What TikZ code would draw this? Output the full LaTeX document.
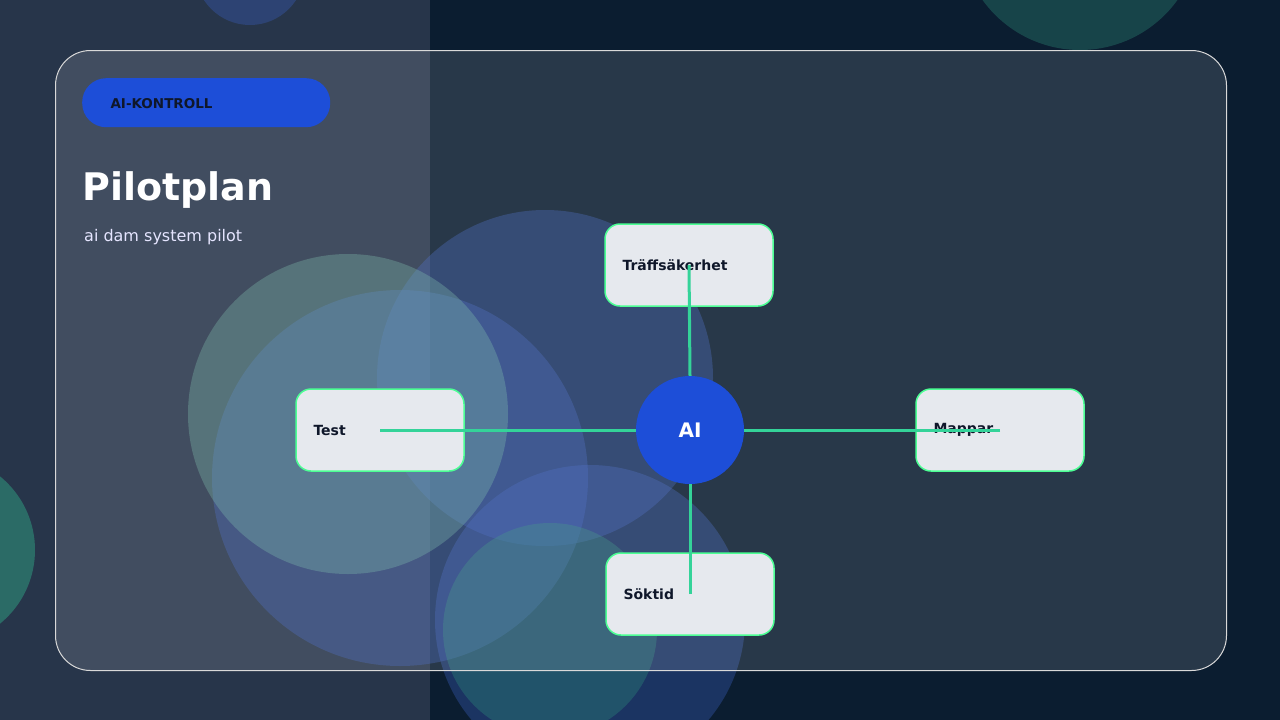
\documentclass[tikz,border=0pt]{standalone}
\usepackage{fontspec}
\setmainfont{DejaVu Sans}
\begin{document}
\begin{tikzpicture}[x=1pt,y=-1pt,
 box/.style={draw=green!60!cyan!70!white, line width=1.5pt, fill=boxc, rounded corners=15pt, minimum width=168pt, minimum height=82pt, inner sep=0pt},
 lbl/.style={font=\bfseries\fontsize{14}{16}\selectfont, text=dark, anchor=west},
 conn/.style={draw=lineg, line width=3pt},
 blob/.style={opacity=0.35}]
\definecolor{bgl}{HTML}{27354A}
\definecolor{bgr}{HTML}{0B1D30}
\definecolor{blu}{HTML}{1D4ED8}
\definecolor{boxc}{HTML}{E6E9EE}
\definecolor{dark}{HTML}{0F172A}
\definecolor{lineg}{HTML}{34D399}
\definecolor{tealc}{HTML}{2F8F7A}
\definecolor{bluec}{HTML}{3B5FC0}
\useasboundingbox (0,0) rectangle (1280,720);
\begin{scope}
\clip (0,0) rectangle (1280,720);
\fill[bgr] (0,0) rectangle (1280,720);
\fill[bgl] (0,0) rectangle (430,720);
\fill[bluec,blob] (250,-30) circle (55);
\fill[tealc,blob] (1080,-70) circle (120);
\fill[tealc,opacity=0.6] (-60,550) circle (95);
\fill[bluec,blob] (545,378) circle (168);
\fill[bluec,blob] (400,478) circle (188);
\fill[tealc!70!white,blob] (348,414) circle (160);
\fill[bluec,blob] (590,620) circle (155);
\fill[tealc,blob] (550,630) circle (107);
\end{scope}
\node[draw=white!70!gray, line width=1pt, fill=white, fill opacity=0.12, rounded corners=35pt, minimum width=1171pt, minimum height=620pt, anchor=north west] (panel) at (55,50) {};
\node[fill=blu, rounded corners=24pt, minimum width=248pt, minimum height=49pt, anchor=north west] (pill) at (82,78) {};
\node[anchor=west, font=\bfseries\fontsize{13.5}{15}\selectfont, text=dark] (pilltxt) at (107,104) {AI-KONTROLL};
\node[anchor=west, inner sep=0pt, font=\bfseries\fontsize{38}{44}\selectfont, text=white] (title) at (82,190) {Pilotplan};
\node[anchor=west, inner sep=0pt, font=\fontsize{16}{19}\selectfont, text=white!90!blue] (sub) at (84,237) {ai dam system pilot};
\node[box] (top) at (689,265) {};
\node[box] (left) at (380,430) {};
\node[box] (right) at (1000,430) {};
\node[box] (bot) at (690,594) {};
\begin{scope}
\clip[rounded corners=15pt] (606,225) rectangle (772,305);
\node[lbl] (ttop) at (619,265) {Träffsäkerhet};
\end{scope}
\node[lbl] (tleft) at (310,430) {Test};
\node[lbl] (tright) at (930,430) {Mappar};
\node[lbl] (tbot) at (620,594) {Söktid};
\node[circle, fill=blu, minimum size=108pt, inner sep=0pt, text=white, font=\bfseries\fontsize{20}{24}\selectfont] (ai) at (690,430) {AI};
\draw[conn] (left.center) -- (ai.west);
\draw[conn] (right.center) -- (ai.east);
\draw[conn] (top.center) -- (ai.north);
\draw[conn] (bot.center) -- (ai.south);
\end{tikzpicture}
\end{document}
